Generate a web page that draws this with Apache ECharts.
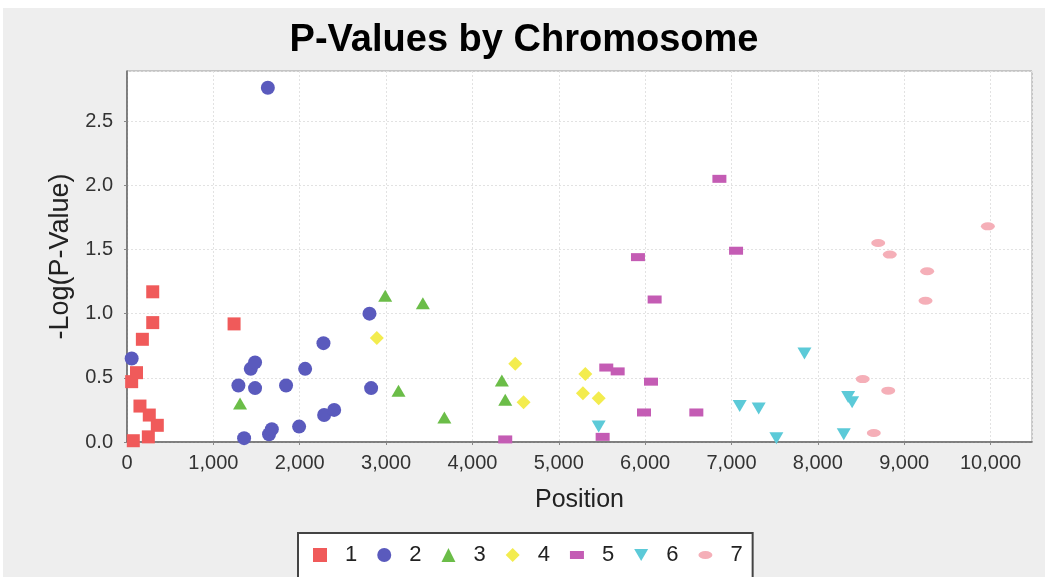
<!DOCTYPE html>
<html>
<head>
<meta charset="utf-8">
<script src="https://cdn.jsdelivr.net/npm/echarts@6/dist/echarts.min.js"></script>
<style>
  html, body { margin: 0; padding: 0; background: #ffffff; }
  #chart { position: absolute; left: 3px; top: 8px; width: 1042px; height: 569px; }
</style>
</head>
<body>
<div id="chart"></div>
<script>
// Chromosome names shown in the legend
const chromosomes = ['1', '2', '3', '4', '5', '6', '7'];

// Marker positions and -log10(p) values per chromosome
const chr1Pos = [54, 73, 110, 150, 178, 247, 258, 298, 298, 351, 1240];
const chr1Val = [0.47, 0.01, 0.54, 0.28, 0.80, 0.04, 0.21, 1.17, 0.93, 0.13, 0.92];

const chr2Pos = [54, 1290, 1356, 1433, 1483, 1483, 1631, 1645, 1677, 1842, 1993, 2063, 2275, 2283, 2399, 2808, 2827];
const chr2Val = [0.65, 0.44, 0.03, 0.57, 0.62, 0.42, 2.76, 0.06, 0.10, 0.44, 0.12, 0.57, 0.77, 0.21, 0.25, 1.00, 0.42];

const chr3Pos = [1309, 2990, 3144, 3426, 3675, 4341, 4380];
const chr3Val = [0.30, 1.14, 0.40, 1.08, 0.19, 0.48, 0.33];

const chr4Pos = [2893, 4496, 4592, 5280, 5307, 5462];
const chr4Val = [0.81, 0.61, 0.31, 0.38, 0.53, 0.34];

const chr5Pos = [4380, 5508, 5550, 5682, 5917, 5987, 6068, 6110, 6593, 6860, 7053];
const chr5Val = [0.02, 0.04, 0.58, 0.55, 1.44, 0.23, 0.47, 1.11, 0.23, 2.05, 1.49];

const chr6Pos = [5462, 7095, 7315, 7520, 7845, 8300, 8351, 8397];
const chr6Val = [0.12, 0.28, 0.26, 0.03, 0.69, 0.06, 0.35, 0.31];

const chr7Pos = [8520, 8648, 8699, 8815, 8833, 9247, 9266, 9969];
const chr7Val = [0.49, 0.07, 1.55, 0.40, 1.46, 1.10, 1.33, 1.68];

const positions = [chr1Pos, chr2Pos, chr3Pos, chr4Pos, chr5Pos, chr6Pos, chr7Pos];
const values = [chr1Val, chr2Val, chr3Val, chr4Val, chr5Val, chr6Val, chr7Val];

// Per-series marker look (path shapes keep their own proportions inside a square box)
const colors = ['#f05a5a', '#5a5abd', '#6bbd48', '#f3ec4e', '#c45cb4', '#5ccad8', '#f5afb8'];
const symbols = [
  'rect',
  'circle',
  'triangle',
  'diamond',
  'path://M0,0L14,0L14,8L0,8Z',
  'path://M0,0L14,0L7,12Z',
  'path://M0,4A7,4 0 1,1 14,4A7,4 0 1,1 0,4Z'
];
const sizes = [[13, 13], [14, 14], [14, 12], [14, 14], [14, 14], [14, 14], [14, 14]];

const FONT = '"Liberation Sans", Arial, Helvetica, sans-serif';

const series = chromosomes.map((name, i) => ({
  name: name,
  type: 'scatter',
  symbol: symbols[i],
  symbolSize: sizes[i],
  symbolKeepAspect: true,
  itemStyle: { color: colors[i], opacity: 1 },
  emphasis: { disabled: true },
  data: positions[i].map((p, k) => [p, values[i][k]])
}));

const chart = echarts.init(document.getElementById('chart'), null, { renderer: 'canvas' });
chart.setOption({
  backgroundColor: '#eeeeee',
  animation: false,
  textStyle: { fontFamily: FONT },
  title: {
    text: 'P-Values by Chromosome',
    left: 'center',
    top: 14,
    padding: 0,
    textStyle: { fontFamily: FONT, fontSize: 38, fontWeight: 'bold', color: '#000000' }
  },
  grid: {
    left: 124,
    top: 63,
    right: 13,
    bottom: 135,
    show: true,
    backgroundColor: '#ffffff',
    borderColor: '#9a9a9a',
    borderWidth: 1
  },
  legend: {
    data: chromosomes,
    left: 295,
    top: 525,
    orient: 'horizontal',
    backgroundColor: '#ffffff',
    borderColor: '#444444',
    borderWidth: 2,
    padding: [11, 10, 20, 15],
    itemWidth: 14,
    itemHeight: 14,
    itemGap: 20,
    textStyle: { fontFamily: FONT, fontSize: 22, color: '#222222', padding: [0, 0, 0, 13] }
  },
  xAxis: {
    type: 'value',
    name: 'Position',
    nameLocation: 'middle',
    nameGap: 46,
    nameTextStyle: { fontFamily: FONT, fontSize: 25, color: '#222222' },
    min: 0,
    max: 10480,
    interval: 1000,
    axisLine: { show: true, lineStyle: { color: '#666666', width: 1.5 } },
    axisTick: { show: true, length: 3, lineStyle: { color: '#888888' } },
    axisLabel: {
      margin: 11,
      fontSize: 20,
      color: '#333333',
      showMaxLabel: false,
      formatter: v => v.toLocaleString('en-US')
    },
    splitLine: { show: true, lineStyle: { color: '#e2e2e2', type: [2, 2] } }
  },
  yAxis: {
    type: 'value',
    name: '-Log(P-Value)',
    nameLocation: 'middle',
    nameGap: 43,
    nameTextStyle: { fontFamily: FONT, fontSize: 27, color: '#222222' },
    min: 0,
    max: 2.89,
    interval: 0.5,
    axisLine: { show: true, lineStyle: { color: '#666666', width: 1.5 } },
    axisTick: { show: true, length: 3, lineStyle: { color: '#888888' } },
    axisLabel: {
      margin: 14,
      fontSize: 20,
      color: '#333333',
      showMaxLabel: false,
      formatter: v => v.toFixed(1)
    },
    splitLine: { show: true, lineStyle: { color: '#e2e2e2', type: [2, 2] } }
  },
  series: series
});
</script>
</body>
</html>
